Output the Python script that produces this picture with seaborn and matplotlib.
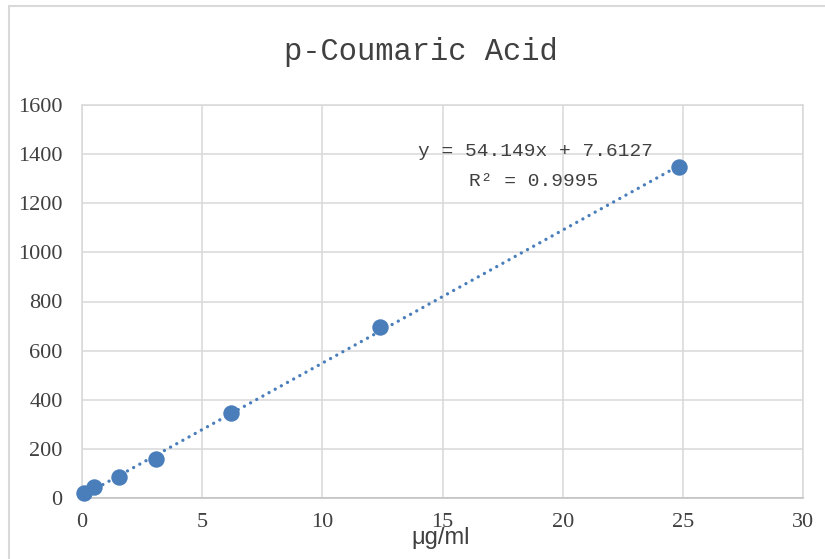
import matplotlib
matplotlib.use("Agg")
import matplotlib.pyplot as plt
import seaborn as sns
import numpy as np
import pandas as pd
from matplotlib.lines import Line2D

# ---- data ----
conc = [0.1, 0.5, 1.52, 3.09, 6.19, 12.41, 24.86]
area = [21, 44, 86, 160, 347, 698, 1349]
slope = 54.149
intercept = 7.6127
r2_text = "0.9995"
x_ticks = [0, 5, 10, 15, 20, 25, 30]
y_ticks = [0, 200, 400, 600, 800, 1000, 1200, 1400, 1600]
title = "p-Coumaric Acid"
x_label = "μg/ml"

sns.set_theme(style="white")
plt.rcParams['font.family'] = ['Liberation Serif', 'DejaVu Sans']

blue = "#4a7ebb"
grid = "#d9d9d9"

fig = plt.figure(figsize=(8.25, 5.59), dpi=100)
ax = fig.add_axes([82/825, 1-498/559, (803-82)/825, (498-105)/559])

df = pd.DataFrame({"x": conc, "y": area})
tx = np.array([min(conc), max(conc)])
tdf = pd.DataFrame({"x": tx, "y": slope*tx + intercept})

sns.lineplot(data=tdf, x="x", y="y", ax=ax, color=blue, lw=2.4,
             linestyle=(0, (0.01, 2.1)), dash_capstyle="round", zorder=3)
sns.scatterplot(data=df, x="x", y="y", ax=ax, color=blue, s=140,
                edgecolor=blue, linewidth=0, zorder=4, clip_on=False)

ax.set_xlim(0, 30)
ax.set_ylim(0, 1600)
ax.set_xticks(x_ticks)
ax.set_yticks(y_ticks)
ax.set_xticklabels([str(t) for t in x_ticks])
ax.set_yticklabels([str(t) for t in y_ticks])
ax.tick_params(axis="both", length=0, labelsize=16, colors="#404040")
ax.tick_params(axis="y", pad=14)
ax.tick_params(axis="x", pad=11)
ax.grid(True, color=grid, lw=1.1)
ax.set_axisbelow(True)
for s in ax.spines.values():
    s.set_color(grid)
    s.set_linewidth(1.1)
ax.spines["bottom"].set_color("#bfbfbf")
ax.set_xlabel("")
ax.set_ylabel("")

fig.text(441/825, 1-544/559, x_label, ha="center", va="baseline",
         fontsize=17, color="#404040", family=["Liberation Sans", "DejaVu Sans"])
fig.text(421/825, 1-52/559, title, ha="center", va="center",
         fontsize=22, color="#404040", family=["Liberation Mono", "DejaVu Sans Mono"])
fig.text(535/825, 1-152/559, f"y = {slope}x + {intercept}", ha="center", va="center",
         fontsize=14, color="#404040", family=["Liberation Mono", "DejaVu Sans Mono"])
fig.text(534/825, 1-182/559, f"R² = {r2_text}", ha="center", va="center",
         fontsize=14, color="#404040", family=["Liberation Mono", "DejaVu Sans Mono"])

# chart-area border (left and top edges visible)
fig.add_artist(Line2D([9/825, 9/825], [0, 1-6/559], transform=fig.transFigure, color=grid, lw=1.5))
fig.add_artist(Line2D([9/825, 1.0], [1-6/559, 1-6/559], transform=fig.transFigure, color=grid, lw=1.5))

fig.savefig("out.png", dpi=100)
